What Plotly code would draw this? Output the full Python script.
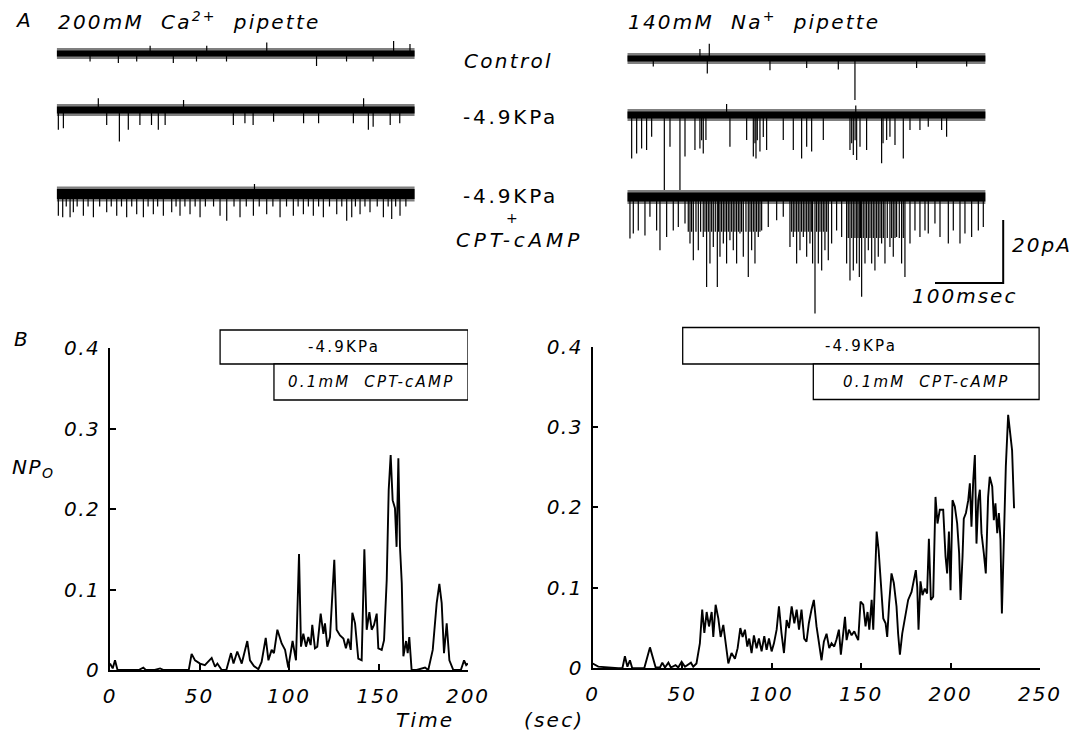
import plotly.graph_objects as go

W, H = 1080, 738

# ---------------- Panel B data: NPo vs time (sec) ----------------
ca_npo_pts = [
    (0, 0.008), (1.5, 0.002), (2.8, 0.012), (4.2, 0), (10, 0), (16, 0), (18.6, 0.003), (20, 0), (25, 0),
    (28, 0.002), (30, 0), (44, 0), (45.6, 0.02), (47.5, 0.012), (50.3, 0.008), (53, 0.006), (56.8, 0.015),
    (58.7, 0.004), (60, 0.008), (62.4, 0), (65, 0), (67.6, 0.021), (69, 0.008), (71.1, 0.023), (73.6, 0.008),
    (76.7, 0.036), (78.2, 0.012), (80.4, 0.005), (82.9, 0.001), (84.7, 0.01), (87, 0.04), (88.5, 0.012),
    (90.3, 0.025), (91.6, 0.021), (93.5, 0.05), (95.9, 0.033), (97.8, 0.025), (99.6, 0.003), (102, 0.036),
    (103.9, 0.012), (105.6, 0.144), (106.7, 0.029), (108, 0.045), (109.5, 0.029), (110.8, 0.041),
    (112.1, 0.031), (113, 0.056), (114.5, 0.027), (115.8, 0.029), (117.7, 0.07), (119.2, 0.045),
    (120.1, 0.058), (121.4, 0.029), (122.9, 0.041), (125.3, 0.137), (126.6, 0.05), (128.5, 0.043),
    (130.4, 0.039), (131.8, 0.027), (133.1, 0.039), (134.5, 0.025), (135.4, 0.071), (136.9, 0.058),
    (138.7, 0.014), (140.6, 0.012), (142.1, 0.15), (143.4, 0.05), (144.9, 0.072), (146.2, 0.05),
    (147.5, 0.056), (149, 0.07), (149.9, 0.027), (151.8, 0.025), (153.1, 0.037), (154.6, 0.112),
    (155.7, 0.224), (156.8, 0.267), (157.9, 0.211), (159.2, 0.201), (160.1, 0.153), (161.1, 0.263),
    (162, 0.153), (163, 0.108), (163.9, 0.017), (165.4, 0.036), (166.3, 0.021), (167.2, 0.041), (168.5, 0),
    (171.3, 0), (176, 0.003), (177.8, 0), (180.3, 0.025), (182.5, 0.083), (184, 0.107), (185.3, 0.083),
    (186.6, 0.021), (188.1, 0.058), (189.6, 0.012), (191.8, 0), (196, 0), (197.8, 0.012), (199, 0.006),
    (200, 0.008),
]

na_npo_pts = [
    (0, 0.006), (3.1, 0.002), (14.3, 0), (16.6, 0), (18, 0.015), (19.4, 0.002), (20.8, 0.01), (22.1, 0),
    (25.5, 0), (28.8, 0), (32, 0.026), (33.9, 0.01), (35.2, 0.001), (37.6, 0.001), (38.9, 0.007),
    (40.4, 0.001), (42.3, 0.007), (43.7, 0.001), (46.3, 0.004), (47.8, 0.001), (49.7, 0.008), (51.6, 0.002),
    (54.9, 0.007), (56.2, 0.002), (58, 0.006), (59.9, 0.031), (61.2, 0.073), (62.4, 0.044), (63.7, 0.07),
    (65, 0.052), (66.5, 0.07), (67.4, 0.039), (68.7, 0.079), (70.2, 0.062), (71.5, 0.039), (73, 0.054),
    (74.8, 0.027), (75.8, 0.006), (77.6, 0.019), (79.5, 0.012), (81, 0.025), (82.5, 0.05), (83.8, 0.039),
    (85.1, 0.048), (86.4, 0.027), (87.5, 0.037), (88.8, 0.019), (90.1, 0.041), (91.6, 0.025), (92.9, 0.037),
    (94.4, 0.021), (95.9, 0.04), (97.2, 0.023), (98.5, 0.037), (100, 0.021), (101.3, 0.031), (102.8, 0.048),
    (104.1, 0.077), (105.5, 0.044), (106.9, 0.019), (108.4, 0.06), (109.7, 0.05), (111.2, 0.077),
    (112.7, 0.056), (114, 0.073), (115.3, 0.048), (116.7, 0.073), (118.2, 0.037), (119.5, 0.033),
    (120.8, 0.056), (122.3, 0.073), (123.6, 0.085), (125.1, 0.052), (127, 0.027), (127.9, 0.01),
    (129.2, 0.033), (130.7, 0.043), (132.2, 0.025), (133.5, 0.031), (135, 0.027), (136.3, 0.036),
    (137.6, 0.048), (138.7, 0.017), (140, 0.043), (141, 0.064), (141.9, 0.035), (143.2, 0.048),
    (144.7, 0.041), (146.2, 0.046), (147.5, 0.039), (148.4, 0.035), (149.7, 0.083), (151.2, 0.079),
    (152.5, 0.052), (153.6, 0.07), (154.6, 0.048), (155.9, 0.085), (156.8, 0.048), (157.7, 0.11),
    (158.7, 0.17), (159.8, 0.147), (161, 0.101), (162.4, 0.062), (163.7, 0.056), (164.6, 0.039),
    (165.7, 0.081), (167, 0.118), (168.3, 0.106), (169.8, 0.077), (170.7, 0.043), (171.7, 0.017),
    (173, 0.043), (174.5, 0.062), (176.3, 0.085), (178.2, 0.095), (179.5, 0.108), (180.6, 0.122),
    (181.4, 0.101), (182.1, 0.048), (183.2, 0.108), (184.3, 0.091), (185.6, 0.099), (186.9, 0.093),
    (187.9, 0.161), (189, 0.085), (190.3, 0.089), (191.6, 0.213), (192.7, 0.18), (194, 0.197),
    (195.9, 0.197), (197.2, 0.139), (198.1, 0.118), (199.1, 0.17), (200, 0.097), (201.1, 0.209),
    (202.4, 0.201), (203.7, 0.18), (204.8, 0.143), (205.6, 0.085), (206.7, 0.139), (207.4, 0.186),
    (208.6, 0.193), (209.9, 0.209), (210.8, 0.23), (211.7, 0.176), (212.7, 0.234), (213.6, 0.265),
    (214.5, 0.155), (215.5, 0.209), (216.4, 0.222), (217.3, 0.168), (218.6, 0.143), (219.7, 0.118),
    (221, 0.213), (221.9, 0.238), (223.3, 0.226), (224.2, 0.184), (225.1, 0.205), (226.1, 0.168),
    (227, 0.193), (227.9, 0.16), (228.7, 0.068), (229.8, 0.172), (230.9, 0.251), (232.2, 0.315),
    (233.1, 0.296), (234.4, 0.271), (235.5, 0.199),
]

# treatment bars (sec): pressure start, CPT-cAMP start, end
ca_pressure_on, ca_camp_on, ca_end = 61.5, 91.6, 200
na_pressure_on, na_camp_on, na_end = 50.3, 123.3, 249.5

# ---------------- Panel A data: single-channel records ----------------
record_ms = 525          # length of each record (ms)
# events read from the records: (time ms, excursion pA); negative = inward openings
ca_ctrl_ev = [(48.9, -2.5), (90.4, -3), (117.3, -2.5), (137, 2.5), (171, -3), (205, -2.5), (220, 2.5),
              (249, -2.5), (308, 3.5), (381, -4), (425, -2.5), (464, -2.5), (494, 4), (518, 3)]
ca_press_ev = [(2.4, -6.3), (9.8, -5.8), (61, 3.7), (73.3, -4.8), (91.9, -10), (105, -6.3), (122, -4.8),
               (139, -4.8), (149, -6.3), (159, -4.8), (186, 3.2), (259, -4.8), (276, -4.2), (288, -4.8),
               (318, -3.7), (362, -4.2), (384, -4.2), (435, -4.2), (450, 3.7), (457, -6.3), (464, -5.3),
               (489, -4.8), (503, -4.2)]
ca_camp_ev = [(2.4, -6.9), (8.8, -7.4), (14, -4), (19.6, -7.4), (24.4, -5.8), (30, -4), (39.1, -6.9),
              (46, -4), (53.8, -7.4), (63, -4), (73.3, -5.8), (80, -4), (88, -6.9), (95, -4), (102.6, -7.4),
              (110, -4), (117.3, -6.4), (127.1, -7.4), (134, -4), (141.7, -6.4), (148, -4), (156.4, -6.9),
              (168.6, -5.8), (175, -4), (180.8, -6.9), (188, -4), (195.5, -6.4), (203, -4), (210.2, -7.4),
              (218, -4), (230, -4), (239.5, -6.9), (249.3, -8.5), (260, -4), (268.8, -7.4), (278, -4),
              (288.4, -6.9), (290, 3.2), (297, -4), (307.9, -6.4), (317, -4), (327.5, -7.4), (337, -4),
              (347, -6.9), (354, -4), (361.7, -6.4), (369, -4), (376.3, -6.9), (384, -4), (391, -7.4),
              (400, -4), (410.6, -6.4), (418, -4), (425.2, -8.5), (432.6, -7.4), (438, -4), (444.8, -6.4),
              (452, -4), (459.4, -5.8), (470, -4), (479, -7.4), (486, -4), (491.2, -7.9), (497, -4),
              (503.4, -6.9), (512, -4)]

na_ctrl_ev = [(38.1, -2.5), (106.5, 3), (117.3, -4.8), (120.2, 4.7), (209.2, -3.7), (263, -3),
              (309.4, -3.5), (333.8, -13.2), (424.2, -3), (497.6, -2.5)]
na_press_ev = [(6.4, -13.8), (13.7, -12.2), (21, -10.6), (28.3, -11.1), (35.7, -6.9), (54.3, -23.8),
               (62.6, -10.1), (77.2, -23.8), (84.6, -13.2), (99.2, -11.1), (106.5, -10.6), (109, -8),
               (111.4, -12.2), (115.3, -7.9), (145.6, 3.5), (150.5, -10.1), (175, -7.9), (184.8, -13.2),
               (187.2, -9), (188.7, -13.8), (190.6, -8), (194.5, -11.6), (199.4, -7), (204.3, -11.1),
               (228.7, -7.9), (243.4, -11.1), (255.6, -13.8), (263, -10.1), (270.3, -11.6), (287.4, -7.9),
               (326.5, -11.1), (329, -9), (331.4, -12.7), (334, -8), (335, 3), (336.3, -14.3),
               (341.2, -10.1), (350.9, -11.1), (372.9, -15.3), (375, -9), (380.3, -7.9), (385.1, -6.9),
               (392.5, -9.5), (404.7, -13.8), (414.5, -4.8), (429.1, -4.8), (441.3, -3.7), (460.9, -4.8),
               (468.2, -6.9)]
na_camp_ev = [(3.9, -13.2), (8.8, -11.6), (16.1, -10.6), (25.9, -12.2), (33.2, -6.3), (43, -10.6),
              (47.9, -16.9), (57.7, -12.7), (67.4, -10.6), (74.8, -9.5), (84.6, -8.4),
              (89.4, -11), (91.9, -14.8), (94.3, -11), (96.8, -20.1), (100.7, -11), (104.1, -16.9),
              (107.5, -11), (111.4, -12.7), (113.9, -11), (116.3, -28.6), (118.8, -11), (121.2, -21.1),
              (123.7, -11), (126.1, -15.9), (129, -11), (132, -28.6), (133.9, -11), (135.9, -19.0),
              (138.3, -11), (140.8, -14.8), (143.2, -11), (145.6, -21.1), (148.1, -11), (150.5, -13.7),
              (153, -11), (155.4, -16.9), (157.8, -11), (160.3, -21.1), (162.8, -11), (165.2, -11.6),
              (167.6, -11), (170.1, -19.0), (174, -11), (177.4, -25.4), (179.9, -11), (182.3, -16.9),
              (184.8, -11), (187.2, -21.1), (189.6, -11), (192.1, -12.7), (194.5, -11), (197, -10.6),
              (206.7, -9.5), (219, -7.4), (228.7, -6.3),
              (238.5, -15.9), (241, -11), (243.4, -12.7), (245.8, -11), (248.3, -21.1), (250.7, -11),
              (253.2, -16.9), (255.6, -11), (258.1, -12.7), (260.5, -11), (263, -19.0), (265.4, -11),
              (267.8, -14.8), (269.8, -11), (271.7, -21.1), (275.2, -37.0), (277.6, -11), (280.1, -21.1),
              (282.5, -11), (285, -23.3), (287.4, -11), (289.8, -16.9), (292.3, -11), (294.7, -20.1),
              (299.6, -14.8), (306.9, -10.6), (314.3, -12.7), (321.6, -21.1),
              (324, -13), (326.5, -26.5), (329, -13), (331.4, -23.3), (333.8, -13), (336.3, -21.1),
              (338.2, -13), (340.2, -25.4), (342.1, -13), (343.6, -31.7), (346, -13), (348.5, -21.1),
              (350.9, -13), (353.4, -16.9), (355.8, -13), (358.3, -21.1), (360.7, -13), (363.1, -23.3),
              (365.6, -13), (368, -19.0), (370.5, -13), (372.9, -14.8), (375.4, -13), (377.8, -21.1),
              (381.2, -13), (385.1, -15.9), (387.6, -13), (390, -19.0), (392.5, -13), (394.9, -12.7),
              (398.8, -13), (402.2, -21.1), (404.7, -13), (407.1, -25.4),
              (414.5, -14.8), (421.8, -10.6), (429.1, -12.7), (436.5, -10.6), (441.3, -11.6),
              (451.1, -8.4), (458.5, -12.7), (470.7, -14.8), (478, -10.6), (487.8, -14.8), (495.1, -11.6),
              (504.9, -12.7), (514.7, -10.6), (522, -9.5)]

scale_ms, scale_pA = 100, 20

# ---------------- layout geometry (pixels) ----------------
def px(x):
    return x / W


def py(y):
    return 1 - y / H


MS_PX, PA_PX = 0.682, 3.15                # record scale: pixels per ms, per pA
TOP_Y0, TOP_Y1 = 30, 330                  # pixel extent of panel A axis
pa_range = (TOP_Y1 - TOP_Y0) / PA_PX


def row(ypix):                            # baseline of a record row, in pA axis units
    return -(ypix - TOP_Y0) / PA_PX


FONT = "DejaVu Sans"


def ft(size, italic=True):
    return dict(family=FONT, size=size, color="black", style="italic" if italic else "normal")


def sp(s, gap=2):
    return '<span style="letter-spacing:%gpx">%s</span>' % (gap, s)


fig = go.Figure()

# ---- Panel B traces
fig.add_trace(go.Scatter(x=[p[0] for p in ca_npo_pts], y=[p[1] for p in ca_npo_pts], mode="lines",
                         line=dict(color="black", width=1.9), xaxis="x", yaxis="y", showlegend=False))
fig.add_trace(go.Scatter(x=[p[0] for p in na_npo_pts], y=[p[1] for p in na_npo_pts], mode="lines",
                         line=dict(color="black", width=1.9), xaxis="x2", yaxis="y2", showlegend=False))


# ---- Panel A records
def add_record(events, base, xa, band):
    # noise halo + dense core of the closed-channel baseline
    fig.add_trace(go.Scatter(x=[0, record_ms], y=[base, base], mode="lines",
                             line=dict(color="rgba(0,0,0,0.5)", width=band + 5), xaxis=xa, yaxis="y3",
                             showlegend=False, hoverinfo="skip"))
    fig.add_trace(go.Scatter(x=[0, record_ms], y=[base, base], mode="lines",
                             line=dict(color="black", width=band), xaxis=xa, yaxis="y3",
                             showlegend=False, hoverinfo="skip"))
    xs, ys = [], []
    for t, a in events:
        xs += [t, t, None]
        ys += [base, base + a, None]
    fig.add_trace(go.Scatter(x=xs, y=ys, mode="lines", line=dict(color="black", width=1.2),
                             xaxis=xa, yaxis="y3", showlegend=False, hoverinfo="skip"))


add_record(ca_ctrl_ev, row(53.5), "x3", 6)
add_record(ca_press_ev, row(110), "x3", 7)
add_record(ca_camp_ev, row(194), "x3", 10)
add_record(na_ctrl_ev, row(58.5), "x4", 6)
add_record(na_press_ev, row(115), "x4", 7)
add_record(na_camp_ev, row(197), "x4", 9)

# scale bar (ms / pA) on the right record axis
sb_t0 = (935 - 627.3) / MS_PX
sb_y0 = row(283)
fig.add_trace(go.Scatter(x=[sb_t0, sb_t0 + scale_ms, sb_t0 + scale_ms],
                         y=[sb_y0, sb_y0, sb_y0 + scale_pA], mode="lines",
                         line=dict(color="black", width=2), xaxis="x4", yaxis="y3",
                         showlegend=False, hoverinfo="skip"))

tick_common = dict(showline=True, linecolor="black", linewidth=1.5, ticks="inside", ticklen=6,
                   tickwidth=1.5, tickcolor="black", showgrid=False, zeroline=False,
                   tickfont=ft(20), fixedrange=True, automargin=False)
xt_ca = [0, 50, 100, 150, 200]
xt_na = [0, 50, 100, 150, 200, 250]
yt = [0, 0.1, 0.2, 0.3, 0.4]
ytxt = [sp(s, 1.5) for s in ["0", "0.1", "0.2", "0.3", "0.4"]]

fig.update_layout(
    template="none",
    width=W, height=H, autosize=False,
    margin=dict(l=0, r=0, t=0, b=0, pad=0, autoexpand=False),
    paper_bgcolor="white", plot_bgcolor="white", showlegend=False,
    xaxis=dict(domain=[px(110), px(468)], range=[0, 200], anchor="y", tickvals=xt_ca,
               ticktext=[sp(str(v)) for v in xt_ca], ticklabelstandoff=7, **tick_common),
    yaxis=dict(domain=[py(670), py(348)], range=[0, 0.4], anchor="x", tickvals=yt, ticktext=ytxt,
               ticklabelstandoff=4, **tick_common),
    xaxis2=dict(domain=[px(592.7), px(1040)], range=[0, 250], anchor="y2", tickvals=xt_na,
                ticktext=[sp(str(v)) for v in xt_na], ticklabelstandoff=7, **tick_common),
    yaxis2=dict(domain=[py(668.3), py(346.5)], range=[0, 0.4], anchor="x2", tickvals=yt,
                ticktext=ytxt, ticklabelstandoff=4, **tick_common),
    xaxis3=dict(domain=[px(56.7), px(56.7 + record_ms * MS_PX)], range=[0, record_ms], anchor="y3",
                visible=False, fixedrange=True, automargin=False),
    xaxis4=dict(domain=[px(627.3), px(627.3 + 561 * MS_PX)], range=[0, 561], anchor="y3",
                visible=False, fixedrange=True, automargin=False),
    yaxis3=dict(domain=[py(TOP_Y1), py(TOP_Y0)], range=[-pa_range, 0], anchor="x3",
                visible=False, fixedrange=True, automargin=False),
)

# ---- treatment boxes
shapes = []
anns = []


def box(xref, x0, x1, ytop, ybot, label, italic):
    shapes.append(dict(type="rect", xref=xref, yref="paper", x0=x0, x1=x1, y0=py(ybot), y1=py(ytop),
                       line=dict(color="black", width=1.3), fillcolor="white"))
    anns.append(dict(xref=xref, yref="paper", x=(x0 + x1) / 2, y=py((ytop + ybot) / 2), text=label,
                     showarrow=False, font=ft(15, italic), xanchor="center", yanchor="middle"))


box("x", ca_pressure_on, ca_end, 330, 364, sp("-4.9KPa", 2.2), False)
box("x", ca_camp_on, ca_end, 364, 400, sp("0.1mM&nbsp;&nbsp;CPT-cAMP", 2.2), True)
box("x2", na_pressure_on, na_end, 327.5, 364, sp("-4.9KPa", 2.2), False)
box("x2", na_camp_on, na_end, 364, 399.5, sp("0.1mM&nbsp;&nbsp;CPT-cAMP", 2.2), True)


def label(x, y, text, size=20, italic=True, xanchor="left"):
    anns.append(dict(xref="paper", yref="paper", x=px(x), y=py(y), text=text, showarrow=False,
                     font=ft(size, italic), xanchor=xanchor, yanchor="middle"))


label(13, 20, "A")
label(56, 21, sp("200mM&nbsp;&nbsp;Ca<sup>2+</sup>&nbsp;&nbsp;pipette", 2.2))
label(626, 21, sp("140mM&nbsp;&nbsp;Na<sup>+</sup>&nbsp;&nbsp;pipette", 2.2))
label(508, 61, sp("Control", 2.3), xanchor="center")
label(510, 117, sp("-4.9KPa", 2.8), italic=False, xanchor="center")
label(510, 196, sp("-4.9KPa", 2.8), italic=False, xanchor="center")
label(512, 218, "+", size=14, italic=False, xanchor="center")
label(519, 240, sp("CPT-cAMP", 3.8), xanchor="center")
label(1010, 245, sp("20pA", 2))
label(910, 296, sp("100msec", 2))
label(12, 339, "B")
label(10, 468, sp("NP<sub>O</sub>", 1.5))
label(394, 720, sp("Time", 2.2))
label(522, 720, sp("(sec)", 2.2))

fig.update_layout(shapes=shapes, annotations=anns)

fig.write_html("out.html", config={"displayModeBar": False, "responsive": False},
               post_script="document.body.style.margin='0';document.body.style.padding='0';"
                           "document.documentElement.style.overflow='hidden';")
